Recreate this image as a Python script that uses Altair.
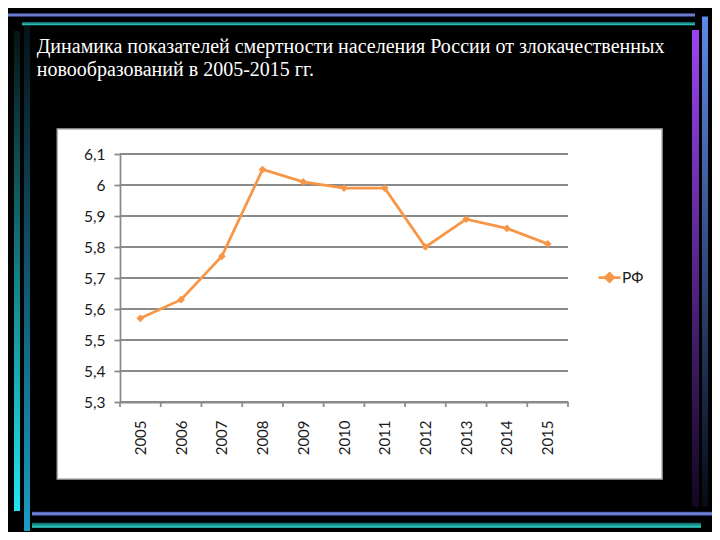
import altair as alt
import pandas as pd

# ---- data ----
years = [2005, 2006, 2007, 2008, 2009, 2010, 2011, 2012, 2013, 2014, 2015]
values = [5.57, 5.63, 5.77, 6.05, 6.01, 5.99, 5.99, 5.80, 5.89, 5.86, 5.81]
series_name = "РФ"
y_ticks = [5.3, 5.4, 5.5, 5.6, 5.7, 5.8, 5.9, 6.0, 6.1]
title_lines = [
    "Динамика показателей смертности населения России от злокачественных",
    "новообразований в 2005-2015 гг.",
]

df = pd.DataFrame({"year": years, "value": values, "series": [series_name] * len(years)})
grid_df = pd.DataFrame({"v": y_ticks})
tick_df = pd.DataFrame({"t": [y - 0.5 for y in years] + [years[-1] + 0.5]})

# ---- layout ----
OX, OY = 120, 154          # page position of plot origin
W, H = 448, 248            # plot area
PAD_L, PAD_T = OX - 8, OY - 8
TOTAL_W, TOTAL_H = 704, 524

ORANGE = "#F79646"
GRID = "#8a8a8a"
FONT = "Lato"
LABEL = "#1a1a1a"

x_scale = alt.Scale(domain=[years[0] - 0.5, years[-1] + 0.5], nice=False, zero=False)
y_scale = alt.Scale(domain=[y_ticks[0], y_ticks[-1]], nice=False, zero=False)

x_axis = alt.Axis(values=years, tickCount=len(years) + 1, format="d", labelAngle=270, ticks=False,
                  grid=False, domainColor=GRID, domainWidth=2,
                  labelPadding=18, labelFont=FONT, labelFontSize=15,
                  labelColor=LABEL, labelOverlap=False, zindex=5)
y_axis = alt.Axis(values=y_ticks, tickCount=len(y_ticks) + 1, grid=False, domainColor=GRID,
                  domainWidth=1.75, tickColor=GRID, tickSize=6, tickWidth=1.75, labelPadding=9,
                  labelFont=FONT, labelFontSize=15.5, labelColor=LABEL,
                  labelOverlap=False, labelFlush=False,
                  labelExpr="replace(format(datum.value, '.2~f'), '.', ',')",
                  zindex=5)

one = pd.DataFrame({"k": [0]})


def vgrad(c1, c2):
    return alt.Gradient(gradient="linear", x1=0, y1=0, x2=0, y2=1,
                        stops=[alt.GradientStop(color=c1, offset=0),
                               alt.GradientStop(color=c2, offset=1)])


def hbar(c_edge, c_mid):
    return alt.Gradient(gradient="linear", x1=0, y1=0, x2=0, y2=1,
                        stops=[alt.GradientStop(color=c_edge, offset=0),
                               alt.GradientStop(color=c_mid, offset=0.5),
                               alt.GradientStop(color=c_edge, offset=1)])


def deco(px1, py1, px2, py2, fill, stroke=None, sw=0):
    kw = dict(fill=fill)
    if stroke:
        kw.update(stroke=stroke, strokeWidth=sw)
    return alt.Chart(one).mark_rect(**kw).encode(
        x=alt.value(px1 - OX), x2=alt.value(px2 - OX),
        y=alt.value(py1 - OY), y2=alt.value(py2 - OY),
    )


decos = [
    deco(5, 13.3, 695, 16.7, hbar("#3a4a9a", "#7e90e0")),
    deco(22, 22, 695, 25.3, vgrad("#0b5f60", "#2fd8cc")),
    deco(14, 31, 20, 511, vgrad("#061414", "#22e6f2")),
    deco(24, 26, 30, 531, vgrad("#06121a", "#1a9cc4")),
    deco(32, 511.7, 716, 515.7, hbar("#3a4a9a", "#7e90e0")),
    deco(32, 522.7, 701, 527.7, vgrad("#0b5f60", "#2fd8cc")),
    deco(692, 30, 699, 507, vgrad("#9a44f2", "#120620")),
    deco(702, 16.5, 708, 507, vgrad("#5c8ae6", "#060a14")),
    deco(57.3, 129, 662, 479, "#ffffff", stroke="#b0b0b0", sw=1.5),
]

titles = [
    alt.Chart(one).mark_text(
        text=line, font="Liberation Serif", fontSize=20, color="white",
        align="left", baseline="alphabetic",
    ).encode(x=alt.value(36.7 - OX), y=alt.value(by - OY))
    for line, by in zip(title_lines, [53, 76])
]

grid = alt.Chart(grid_df).mark_rule(color=GRID, strokeWidth=2).encode(
    y=alt.Y("v:Q", scale=y_scale, title=None, axis=y_axis),
    x=alt.value(0), x2=alt.value(W),
)

xticks = alt.Chart(tick_df).mark_rule(color=GRID, strokeWidth=1.75).encode(
    x=alt.X("t:Q", scale=x_scale, title=None, axis=x_axis),
    y=alt.value(H), y2=alt.value(H + 5),
)

line = alt.Chart(df).mark_line(strokeWidth=2.75).encode(
    x=alt.X("year:Q", scale=x_scale, title=None),
    y=alt.Y("value:Q", scale=y_scale, title=None),
    color=alt.Color("series:N", scale=alt.Scale(domain=[series_name], range=[ORANGE]),
                    legend=alt.Legend(orient="none", legendX=477, legendY=111, title=None,
                                      symbolType="M-1,0L1,0M0,-0.38L0.38,0L0,0.38L-0.38,0Z",
                                      symbolSize=484, symbolStrokeWidth=2.75,
                                      symbolFillColor=ORANGE, symbolStrokeColor=ORANGE,
                                      labelFont=FONT, labelFontSize=15.5, labelColor=LABEL,
                                      labelOffset=0)),
)

points = alt.Chart(df).mark_point(shape="diamond", filled=True, size=60, color=ORANGE, opacity=1).encode(
    x=alt.X("year:Q", scale=x_scale, title=None),
    y=alt.Y("value:Q", scale=y_scale, title=None),
)

chart = alt.layer(*decos, *titles, grid, xticks, line, points).properties(
    width=W, height=H,
    padding={"left": PAD_L, "top": PAD_T, "right": TOTAL_W - PAD_L - W, "bottom": TOTAL_H - PAD_T - H},
    autosize=alt.AutoSizeParams(type="none"),
    background="black",
).configure_view(stroke=None).configure_axis(labelOverlap=False, labelFlush=False)

chart.save("out.html", embed_options={"renderer": "svg", "actions": False})
